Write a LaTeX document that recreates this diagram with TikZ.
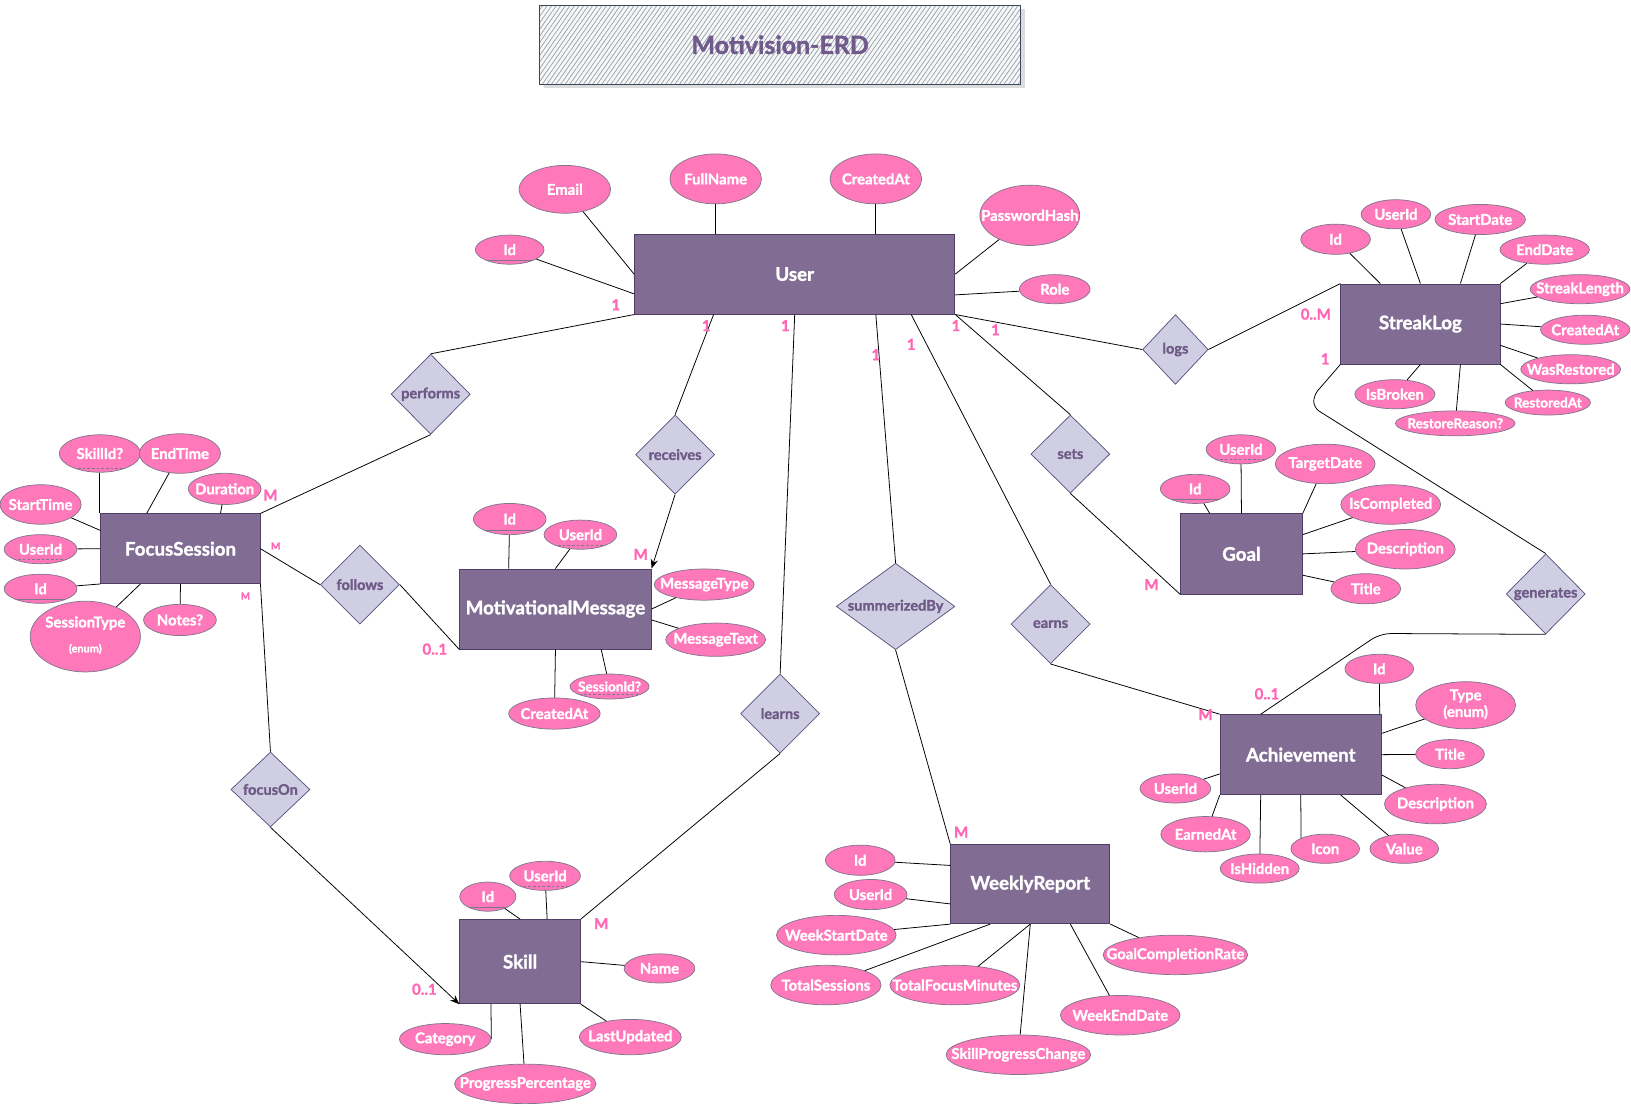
\documentclass[tikz,border=0pt]{standalone}
\usepackage{fontspec}
\setmainfont{Lato}[BoldFeatures={FakeBold=1.4}]
\usetikzlibrary{shapes.geometric,arrows.meta,patterns.meta,calc}
\definecolor{entf}{RGB}{129,109,148}
\definecolor{entd}{RGB}{80,62,102}
\definecolor{attrf}{RGB}{255,120,186}
\definecolor{attrd}{RGB}{128,118,140}
\definecolor{relf}{RGB}{208,206,226}
\definecolor{reld}{RGB}{86,81,126}
\definecolor{relt}{RGB}{110,90,135}
\definecolor{cardc}{RGB}{255,102,179}
\definecolor{hatch}{RGB}{150,160,175}
\definecolor{titled}{RGB}{60,72,90}
\definecolor{titlet}{RGB}{112,90,140}
\newcommand{\mk}[1]{\makebox[0pt]{#1}}
\newcommand{\mktwo}[2]{\makebox[0pt]{\begin{tabular}{@{}c@{}}#1\\#2\end{tabular}}}
\begin{document}
\begin{tikzpicture}[x=1pt,y=-1pt,
  ent/.style={rectangle, draw=entd, fill=entf, line width=0.8pt, inner sep=0pt, text=white, font=\bfseries\fontsize{18}{21}\selectfont},
  attr/.style={ellipse, draw=attrd, fill=attrf, line width=0.7pt, inner sep=0pt, text=white, font=\bfseries\fontsize{14.3}{16}\selectfont},
  sattr/.style={attr, font=\bfseries\fontsize{13}{15}\selectfont},
  rel/.style={diamond, draw=reld, fill=relf, line width=0.7pt, inner sep=0pt, text=relt, font=\bfseries\fontsize{14}{16}\selectfont},
  card/.style={text=cardc, inner sep=0pt, font=\bfseries\fontsize{14.5}{16}\selectfont},
  scard/.style={text=cardc, inner sep=0pt, font=\bfseries\fontsize{9.5}{11}\selectfont},
  pk/.style={path picture={\draw[attrd, line width=1pt] ([yshift=4pt]path picture bounding box.south west) -- ([yshift=4pt]path picture bounding box.south east);}},
  fk/.style={path picture={\draw[attrd, line width=0.8pt, dash pattern=on 2.5pt off 2pt] ([yshift=4pt]path picture bounding box.south west) -- ([yshift=4pt]path picture bounding box.south east);}},
  conn/.style={draw=black, line width=0.75pt},
  arr/.style={conn, -{Stealth[length=9pt,width=7pt]}}
]
\useasboundingbox (0,0) rectangle (1568,1064.2);

% title
\fill[black!30, opacity=0.45] (523,9) rectangle (985,85);
\node[rectangle, minimum width=462, minimum height=76, inner sep=0pt,
      preaction={fill=gray!6},
      pattern={Lines[angle=55,distance=3.6pt,line width=0.7pt]}, pattern color=hatch,
      draw=titled, line width=1pt, text=titlet,
      font=\bfseries\fontsize{24}{28}\selectfont] (title) at (750,43) {Motivision-ERD};

% ---------- entities ----------
\node[ent, minimum width=308, minimum height=77] (u) at (764,263.5) {User};
\node[ent, minimum width=153, minimum height=67] (fs) at (173.5,527.5) {FocusSession};
\node[ent, minimum width=184, minimum height=77] (mm) at (534,585.5) {MotivationalMessage};
\node[ent, minimum width=116, minimum height=81] (sk) at (500,924.5) {Skill};
\node[ent, minimum width=153, minimum height=76] (wr) at (990.5,850) {WeeklyReport};
\node[ent, minimum width=155, minimum height=77] (ac) at (1250.5,725.5) {Achievement};
\node[ent, minimum width=117, minimum height=77] (go) at (1193.5,532.5) {Goal};
\node[ent, minimum width=153, minimum height=77] (sl) at (1365.5,311.5) {StreakLog};

% ---------- relationships ----------
\node[rel, minimum width=76, minimum height=77] (perf) at (414,379) {\mk{performs}};
\node[rel, minimum width=76, minimum height=76] (rec) at (649,437) {\mk{receives}};
\node[rel, minimum width=76, minimum height=76] (learn) at (750,686) {\mk{learns}};
\node[rel, minimum width=114, minimum height=83] (summ) at (861,583) {\mk{summerizedBy}};
\node[rel, minimum width=76, minimum height=76] (earn) at (1010,600) {\mk{earns}};
\node[rel, minimum width=76, minimum height=75] (sets) at (1029,436.5) {\mk{sets}};
\node[rel, minimum width=63, minimum height=67] (logs) at (1130,336) {\mk{logs}};
\node[rel, minimum width=76, minimum height=76] (fol) at (346,562) {\mk{follows}};
\node[rel, minimum width=76, minimum height=72] (foc) at (260,759) {\mk{focusOn}};
\node[rel, minimum width=76, minimum height=77] (gen) at (1486,571) {\mk{generates}};

% ---------- User attributes ----------
\node[attr, pk, minimum width=66, minimum height=28] (uId) at (490,240) {\mk{Id}};
\node[attr, minimum width=88, minimum height=46] (uEmail) at (543,182) {\mk{Email}};
\node[attr, minimum width=88, minimum height=48] (uFull) at (688,172) {\mk{FullName}};
\node[attr, minimum width=88, minimum height=48] (uCreated) at (842,172) {\mk{CreatedAt}};
\node[attr, minimum width=96, minimum height=58] (uPass) at (990,207) {\mk{PasswordHash}};
\node[attr, minimum width=68, minimum height=28] (uRole) at (1014,278) {\mk{Role}};
\draw[conn] (uId) -- ([shift={(0,19)}]u.west);
\draw[conn] (uEmail) -- (u.west);
\draw[conn] (uFull) -- ([shift={(-76,0)}]u.north);
\draw[conn] (uCreated) -- ([shift={(78,0)}]u.north);
\draw[conn] (uPass) -- (u.east);
\draw[conn] (uRole) -- ([shift={(0,20)}]u.east);

% ---------- FocusSession attributes ----------
\node[attr, fk, minimum width=78, minimum height=36] (fsSkill) at (96,436) {\mk{SkillId?}};
\node[attr, minimum width=78, minimum height=38] (fsEnd) at (173,436) {\mk{EndTime}};
\node[attr, minimum width=70, minimum height=30] (fsDur) at (216,470) {\mk{Duration}};
\node[attr, minimum width=78, minimum height=38] (fsStart) at (39,485) {\mk{StartTime}};
\node[attr, fk, minimum width=70, minimum height=28] (fsUser) at (39,528) {\mk{UserId}};
\node[attr, pk, minimum width=70, minimum height=28] (fsId) at (39,566) {\mk{Id}};
\node[attr, minimum width=106, minimum height=68] (fsType) at (82,612) {\makebox[0pt]{\begin{tabular}{@{}c@{}}SessionType\\[8pt]{\fontsize{10.5}{12}\selectfont(enum)}\end{tabular}}};
\node[attr, minimum width=70, minimum height=30] (fsNotes) at (173,596) {\mk{Notes?}};
\draw[conn] (fsSkill) -- ([shift={(-77.5,0)}]fs.north);
\draw[conn] (fsEnd) -- ([shift={(-32.5,0)}]fs.north);
\draw[conn] (fsDur) -- ([shift={(38.5,0)}]fs.north);
\draw[conn] (fsStart) -- ([shift={(0,-17.5)}]fs.west);
\draw[conn] (fsUser) -- (fs.west);
\draw[conn] (fsId) -- (fs.south west);
\draw[conn] (fsType) -- ([shift={(-38.5,0)}]fs.south);
\draw[conn] (fsNotes) -- (fs.south);

% ---------- MotivationalMessage attributes ----------
\node[attr, pk, minimum width=70, minimum height=30] (mmId) at (490,499) {\mk{Id}};
\node[attr, fk, minimum width=70, minimum height=28] (mmUser) at (558,514) {\mk{UserId}};
\node[attr, minimum width=96, minimum height=30] (mmType) at (677,562) {\mk{MessageType}};
\node[attr, minimum width=96, minimum height=32] (mmText) at (688,615) {\mk{MessageText}};
\node[sattr, fk, minimum width=76, minimum height=24] (mmSess) at (586,660) {\mk{SessionId?}};
\node[attr, minimum width=88, minimum height=30] (mmCreated) at (533,686) {\mk{CreatedAt}};
\draw[conn] (mmId) -- ([shift={(-45,0)}]mm.north);
\draw[conn] (mmUser) -- (mm.north);
\draw[conn] (mmType) -- (mm.east);
\draw[conn] (mmText) -- ([shift={(0,10.5)}]mm.east);
\draw[conn] (mmSess) -- ([shift={(44,0)}]mm.south);
\draw[conn] (mmCreated) -- (mm.south);

% ---------- Skill attributes ----------
\node[attr, pk, minimum width=54, minimum height=28] (skId) at (469,862) {\mk{Id}};
\node[attr, fk, minimum width=68, minimum height=28] (skUser) at (524,842) {\mk{UserId}};
\node[attr, minimum width=68, minimum height=28] (skName) at (634,931) {\mk{Name}};
\node[attr, minimum width=98, minimum height=34] (skLast) at (606,997) {\mk{LastUpdated}};
\node[attr, minimum width=136, minimum height=38] (skProg) at (505,1042) {\mk{ProgressPercentage}};
\node[attr, minimum width=88, minimum height=30] (skCat) at (428,999) {\mk{Category}};
\draw[conn] (skId) -- (sk.north);
\draw[conn] (skUser) -- ([shift={(26,0)}]sk.north);
\draw[conn] (skName) -- (sk.east);
\draw[conn] (skLast) -- (sk.south east);
\draw[conn] (skProg) -- (sk.south);
\draw[conn] (skCat.east) -- ([shift={(-28,0)}]sk.south);

% ---------- WeeklyReport attributes ----------
\node[attr, minimum width=67, minimum height=29] (wrId) at (827,827) {\mk{Id}};
\node[attr, minimum width=70, minimum height=29] (wrUser) at (837,860) {\mk{UserId}};
\node[attr, minimum width=115, minimum height=38] (wrStart) at (804,899) {\mk{WeekStartDate}};
\node[attr, minimum width=106, minimum height=38] (wrTotS) at (794,947) {\mk{TotalSessions}};
\node[attr, minimum width=125, minimum height=38] (wrTotF) at (918,947) {\mk{TotalFocusMinutes}};
\node[attr, minimum width=139, minimum height=38] (wrSkill) at (979,1014) {\mk{SkillProgressChange}};
\node[attr, minimum width=115, minimum height=38] (wrEnd) at (1077,976) {\mk{WeekEndDate}};
\node[attr, minimum width=139, minimum height=38] (wrGoal) at (1130,918) {\mk{GoalCompletionRate}};
\draw[conn] (wrId) -- ([shift={(0,-18)}]wr.west);
\draw[conn] (wrUser) -- ([shift={(0,19)}]wr.west);
\draw[conn] (wrStart) -- (wr.south west);
\draw[conn] (wrTotS) -- ([shift={(-38.5,0)}]wr.south);
\draw[conn] (wrTotF) -- (wr.south);
\draw[conn] (wrSkill) -- (wr.south);
\draw[conn] (wrEnd) -- ([shift={(38.5,0)}]wr.south);
\draw[conn] (wrGoal) -- (wr.south east);

% ---------- Achievement attributes ----------
\node[attr, minimum width=66, minimum height=28] (acId) at (1326,643) {\mk{Id}};
\node[attr, minimum width=96, minimum height=44] (acType) at (1409,678) {\mktwo{Type}{(enum)}};
\node[attr, minimum width=66, minimum height=28] (acTitle) at (1394,725) {\mk{Title}};
\node[attr, minimum width=98, minimum height=38] (acDesc) at (1380,773) {\mk{Description}};
\node[attr, minimum width=66, minimum height=28] (acValue) at (1350,816) {\mk{Value}};
\node[attr, minimum width=66, minimum height=28] (acIcon) at (1274,816) {\mk{Icon}};
\node[attr, minimum width=76, minimum height=28] (acHidden) at (1211,835) {\mk{IsHidden}};
\node[attr, minimum width=86, minimum height=34] (acEarned) at (1159,802) {\mk{EarnedAt}};
\node[attr, minimum width=68, minimum height=28] (acUser) at (1130,758) {\mk{UserId}};
\draw[conn] (acId) -- ([shift={(-2,0)}]ac.north east);
\draw[conn] (acType) -- ([shift={(0,-20.5)}]ac.east);
\draw[conn] (acTitle) -- (ac.east);
\draw[conn] (acDesc) -- ([shift={(0,19.5)}]ac.east);
\draw[conn] (acValue) -- ([shift={(38.5,0)}]ac.south);
\draw[conn] (acIcon.156) -- (ac.south);
\draw[conn] (acHidden) -- ([shift={(-38.5,0)}]ac.south);
\draw[conn] (acEarned) -- (ac.south west);
\draw[conn] (acUser) -- ([shift={(0,18.5)}]ac.west);

% ---------- Goal attributes ----------
\node[attr, fk, minimum width=67, minimum height=28] (goUser) at (1193,432) {\mk{UserId}};
\node[attr, pk, minimum width=67, minimum height=28] (goId) at (1149,470) {\mk{Id}};
\node[attr, minimum width=96, minimum height=38] (goTarget) at (1274,446) {\mk{TargetDate}};
\node[attr, minimum width=96, minimum height=38] (goComp) at (1337,485) {\mk{IsCompleted}};
\node[attr, minimum width=96, minimum height=38] (goDesc) at (1351,528) {\mk{Description}};
\node[attr, minimum width=67, minimum height=29] (goTitle) at (1313,566) {\mk{Title}};
\draw[conn] (goUser) -- (go.north);
\draw[conn] (goId) -- ([shift={(-30.5,0)}]go.north);
\draw[conn] (goTarget) -- (go.north east);
\draw[conn] (goComp) -- ([shift={(0,-18.5)}]go.east);
\draw[conn] (goDesc) -- (go.east);
\draw[conn] (goTitle) -- ([shift={(0,20.5)}]go.east);

% ---------- StreakLog attributes ----------
\node[attr, minimum width=67, minimum height=29] (slId) at (1284,230) {\mk{Id}};
\node[attr, minimum width=67, minimum height=28] (slUser) at (1342,206) {\mk{UserId}};
\node[attr, minimum width=87, minimum height=29] (slStart) at (1423,211) {\mk{StartDate}};
\node[attr, minimum width=86, minimum height=28] (slEnd) at (1485,240) {\mk{EndDate}};
\node[attr, minimum width=96, minimum height=28] (slLen) at (1519,278) {\mk{StreakLength}};
\node[attr, minimum width=86, minimum height=28] (slCreated) at (1524,317) {\mk{CreatedAt}};
\node[attr, minimum width=96, minimum height=28] (slWas) at (1510,355) {\mk{WasRestored}};
\node[sattr, minimum width=82, minimum height=24] (slRestAt) at (1488,387) {\mk{RestoredAt}};
\node[sattr, minimum width=115, minimum height=24] (slReason) at (1399,407) {\mk{RestoreReason?}};
\node[attr, minimum width=77, minimum height=28] (slBroken) at (1341,379) {\mk{IsBroken}};
\draw[conn] (slId) -- ([shift={(-38.5,0)}]sl.north);
\draw[conn] (slUser) -- (sl.north);
\draw[conn] (slStart) -- ([shift={(38.5,0)}]sl.north);
\draw[conn] (slEnd) -- (sl.north east);
\draw[conn] (slLen) -- ([shift={(0,-19.5)}]sl.east);
\draw[conn] (slCreated) -- (sl.east);
\draw[conn] (slWas) -- ([shift={(0,20.5)}]sl.east);
\draw[conn] (slRestAt) -- (sl.south east);
\draw[conn] (slReason) -- ([shift={(38.5,0)}]sl.south);
\draw[conn] (slBroken) -- (sl.south);

% ---------- relationship connectors ----------
\draw[conn] (u.south west) -- (perf.north);
\draw[conn] (perf.south) -- (fs.north east);
\draw[conn] ([shift={(-78,0)}]u.south) -- (rec.north);
\draw[arr] (rec.south) -- (mm.north east);
\draw[conn] (u.south) -- (learn.north);
\draw[conn] (learn.south) -- (sk.north east);
\draw[conn] ([shift={(78,0)}]u.south) -- (summ.north);
\draw[conn] (summ.south) -- (wr.north west);
\draw[conn] ([shift={(112,0)}]u.south) -- (earn.north);
\draw[conn] (earn.south) -- (ac.north west);
\draw[conn] (u.south east) -- (sets.north);
\draw[conn] (sets.south) -- (go.south west);
\draw[conn] (u.south east) -- (logs.west);
\draw[conn] (logs.east) -- (sl.north west);
\draw[conn] (fs.east) -- (fol.west);
\draw[conn] (fol.east) -- (mm.south west);
\draw[conn] (fs.south east) -- (foc.north);
\draw[arr] (foc.south) -- (sk.south west);
\coordinate (g1) at (1263,380);
\coordinate (g2) at (1263,392);
\coordinate (g3) at (1327,609);
\draw[conn, rounded corners=6pt] (sl.south west) -- (g1) -- (g2) -- (gen.north);
\draw[conn, rounded corners=10pt] (gen.south) -- (g3) -- ([shift={(-38.5,0)}]ac.north);

% ---------- cardinalities ----------
\node[card] (c1) at (592,293) {1};
\node[card] (c2) at (679,313) {1};
\node[card] (c3) at (755,313) {1};
\node[card] (c4) at (842,341) {1};
\node[card] (c5) at (876,331) {1};
\node[card] (c6) at (919,313) {1};
\node[card] (c7) at (957,317) {1};
\node[card] (c8) at (260,476) {M};
\node[scard] (c9) at (265,525) {M};
\node[scard] (c10) at (236,573) {M};
\node[card] (c11) at (418,624) {0..1};
\node[card] (c12) at (616,533) {M};
\node[card] (c13) at (578,888) {M};
\node[card] (c14) at (408,951) {0..1};
\node[card] (c15) at (924,800) {M};
\node[card] (c16) at (1159,687) {M};
\node[card] (c17) at (1218,667) {0..1};
\node[card] (c18) at (1107,562) {M};
\node[card] (c19) at (1265,302) {0..M};
\node[card] (c20) at (1274,345) {1};
\end{tikzpicture}
\end{document}
